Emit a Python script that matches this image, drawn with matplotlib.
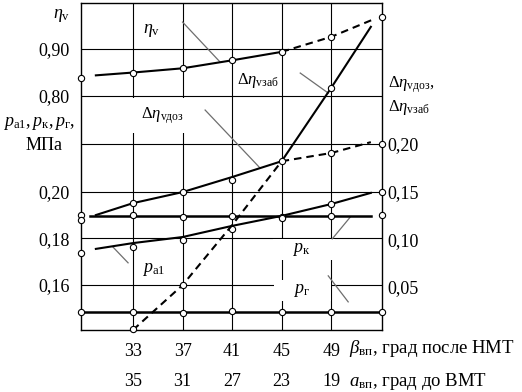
import numpy as np
import matplotlib as mpl
mpl.use("Agg")
import matplotlib.pyplot as plt
from matplotlib.transforms import blended_transform_factory

# ---------------------------------------------------------
# Style: Times-like serif, Cyrillic-capable mathtext
# ---------------------------------------------------------
mpl.rcParams['font.family'] = 'Liberation Serif'
mpl.rcParams['mathtext.fontset'] = 'custom'
mpl.rcParams['mathtext.rm'] = 'Liberation Serif'
mpl.rcParams['mathtext.it'] = 'Liberation Serif:italic'
mpl.rcParams['mathtext.bf'] = 'Liberation Serif:bold'
mpl.rcParams['font.size'] = 13

# ---------------------------------------------------------
# Data
# ---------------------------------------------------------
beta_ticks = [33, 37, 41, 45, 49]
alpha_ticks = [35, 31, 27, 23, 19]
beta_lim = (28.8, 53.1)

# eta_v (left upper scale)
eta_mk_b = [28.8, 33, 37, 41, 45, 49, 53.1]
eta_mk = [0.838, 0.850, 0.859, 0.877, 0.894, 0.926, 0.968]
eta_solid_b = [30, 33, 37, 41, 45]
eta_solid = [0.844, 0.850, 0.859, 0.876, 0.894]
eta_dash_b = [45, 49, 52.3]
eta_dash = [0.894, 0.926, 0.962]

# pressures, MPa (left lower scale)
pa1_mk_b = [28.8, 33, 37, 41, 45, 49, 53.1]
pa1_mk = [0.1738, 0.1763, 0.1794, 0.1841, 0.1892, 0.1948, 0.200]
pa1_b = [30, 33, 37, 41, 45, 49, 52.2]
pa1 = [0.1755, 0.1780, 0.1806, 0.1854, 0.1897, 0.1948, 0.1996]

pk_mk_b = [28.8, 33, 37, 41, 45, 49, 53.1]
pk_mk = [0.1901, 0.1901, 0.1892, 0.1897, 0.1888, 0.1897, 0.1901]
pk_b = [29.5, 52.2]
pk = [0.1897, 0.1897]

pg_mk_b = [28.8, 33, 37, 41, 45, 49, 53.1]
pg_mk = [0.1484, 0.1484, 0.1480, 0.1488, 0.1484, 0.1484, 0.1484]
pg_b = [28.8, 53.1]
pg = [0.1484, 0.1484]

# delta eta_v (right scale)
ddoz_mk_b = [28.8, 33, 37, 41, 45, 49, 53.1]
ddoz_mk = [0.120, 0.138, 0.1496, 0.162, 0.182, 0.1906, 0.200]
ddoz_solid_b = [30, 33, 37, 41, 45]
ddoz_solid = [0.1255, 0.138, 0.1496, 0.1654, 0.182]
ddoz_dash_b = [45, 49, 52.2]
ddoz_dash = [0.182, 0.1906, 0.202]

dzab_mk_b = [33, 37, 49]
dzab_mk = [0.006, 0.052, 0.259]
dzab_dash_b = [33, 37, 41, 45]
dzab_dash = [0.005, 0.052, 0.115, 0.182]
dzab_solid_b = [45, 49, 52.2]
dzab_solid = [0.182, 0.259, 0.323]

# ---------------------------------------------------------
# Figure and three overlaid scales
# ---------------------------------------------------------
W_PX, H_PX = 522, 392
fig = plt.figure(figsize=(W_PX / 100, H_PX / 100), dpi=100)
rect = [81 / W_PX, (H_PX - 330) / H_PX, 301 / W_PX, 327 / H_PX]

ax = fig.add_axes(rect)      # eta_v + grid + labels
ax_p = fig.add_axes(rect)    # pressures
ax_d = fig.add_axes(rect)    # delta eta

for a in (ax, ax_p, ax_d):
    a.set_xlim(*beta_lim)
ax.set_ylim(0.302, 0.998)
ax_p.set_ylim(0.1406, 0.2813)
ax_d.set_ylim(0.0049, 0.348)

for a in (ax_p, ax_d):
    a.patch.set_visible(False)
    for s in a.spines.values():
        s.set_visible(False)
    a.set_xticks([])

for s in ax.spines.values():
    s.set_linewidth(1.0)
    s.set_color("black")

# ticks
ax.set_xticks(beta_ticks, labels=[str(b) for b in beta_ticks])
ax.set_yticks([0.90, 0.80], labels=["0,90", "0,80"])
ax_p.set_yticks([0.20, 0.18, 0.16], labels=["0,20", "0,18", "0,16"])
ax_d.yaxis.tick_right()
ax_d.set_yticks([0.20, 0.15, 0.10, 0.05], labels=["0,20", "0,15", "0,10", "0,05"])
ax.tick_params(axis="x", length=0, pad=9)
ax.tick_params(axis="y", length=0, pad=8)
ax_p.tick_params(axis="y", length=0, pad=8)
ax_d.tick_params(axis="y", length=0, pad=4)

# second row of x labels (alpha = 68 - beta)
xtr = ax.get_xaxis_transform()
for b, a_ in zip(beta_ticks, alpha_ticks):
    ax.text(b, -0.157, str(a_), transform=xtr, ha="center", va="center")

# ---------------------------------------------------------
# Grid (all drawn on the first axes)
# ---------------------------------------------------------
GRID_LW = 0.8
for b in beta_ticks:
    ax.axvline(b, color="black", lw=GRID_LW, zorder=1)
for a_, vals in ((ax, [0.90, 0.80]), (ax_d, [0.20]), (ax_p, [0.20, 0.18, 0.16])):
    tr = blended_transform_factory(ax.transAxes, a_.transData)
    for v in vals:
        ax.plot([0, 1], [v, v], transform=tr, color="black", lw=GRID_LW, zorder=1)

# ---------------------------------------------------------
# Curves
# ---------------------------------------------------------
LW = 1.5
DASH = (0, (3.6, 2.4))
mk = dict(ls="none", marker="o", ms=4.5, mfc="white", mec="black", mew=0.8,
          clip_on=False, zorder=6)

ax.plot(eta_solid_b, eta_solid, color="black", lw=LW, zorder=4)
ax.plot(eta_dash_b, eta_dash, color="black", lw=LW, ls=DASH, zorder=4)
ax.plot(eta_mk_b, eta_mk, **mk)

ax_p.plot(pa1_b, pa1, color="black", lw=LW, zorder=4)
ax_p.plot(pk_b, pk, color="black", lw=1.8, zorder=4)
ax_p.plot(pg_b, pg, color="black", lw=1.8, zorder=4, clip_on=False)
ax_p.plot(pa1_mk_b, pa1_mk, **mk)
ax_p.plot(pk_mk_b, pk_mk, **mk)
ax_p.plot(pg_mk_b, pg_mk, **mk)

ax_d.plot(ddoz_solid_b, ddoz_solid, color="black", lw=LW, zorder=4)
ax_d.plot(ddoz_dash_b, ddoz_dash, color="black", lw=LW, ls=DASH, zorder=4)
ax_d.plot(dzab_dash_b, dzab_dash, color="black", lw=LW, ls=DASH, zorder=4)
ax_d.plot(dzab_solid_b, dzab_solid, color="black", lw=LW, zorder=4)
ax_d.plot(ddoz_mk_b, ddoz_mk, **mk)
ax_d.plot(dzab_mk_b, dzab_mk, **mk)

# ---------------------------------------------------------
# Curve labels with leader lines
# ---------------------------------------------------------
LEAD = dict(color="#6e6e6e", lw=0.9, zorder=2)
WHITE = dict(boxstyle="square,pad=0.12", fc="white", ec="none")
ETA = r"\mathit{η}"

ax.text(34.54, 0.940, rf"${ETA}_{{\mathrm{{v}}}}$", ha="center", va="center", zorder=2)
ax.plot([37.0, 40.03], [0.9574, 0.8723], **LEAD)

ax.text(43.1, 0.267, rf"$\Delta{ETA}_{{\mathrm{{vзаб}}}}$", transform=ax_d.transData,
        ha="center", va="center", fontsize=12, zorder=2)
ax.plot([46.5, 48.76], [0.2745, 0.2535], transform=ax_d.transData, **LEAD)

ax.text(35.2, 0.230, rf" $\Delta{ETA}_{{\mathrm{{vдоз}}}}$", transform=ax_d.transData,
        ha="center", va="center", fontsize=12, zorder=2,
        bbox=dict(boxstyle="square,pad=0.45", fc="white", ec="none"))
ax.plot([38.82, 43.26], [0.2357, 0.1748], transform=ax_d.transData, **LEAD)

ax.text(34.7, 0.1665, r"$p_{\mathrm{a1}}$", transform=ax_p.transData,
        ha="center", va="center", zorder=2)
ax.plot([31.38, 32.6], [0.1763, 0.1695], transform=ax_p.transData, **LEAD)

ax.text(46.8, 0.1752, r"    $p_{\mathrm{к}}$      ", transform=ax_p.transData,
        ha="center", va="center", zorder=2, bbox=WHITE)
ax.plot([50.54, 49.08], [0.1892, 0.1798], transform=ax_p.transData, **LEAD)

ax.text(46.7, 0.1575, r"    $p_{\mathrm{г}}$     ", transform=ax_p.transData,
        ha="center", va="center", zorder=2, bbox=WHITE)
ax.plot([48.76, 50.37], [0.1639, 0.1527], transform=ax_p.transData, **LEAD)

# ---------------------------------------------------------
# Axis titles
# ---------------------------------------------------------
ax.text(-0.066, 0.963, rf"${ETA}_{{\mathrm{{v}}}}$", transform=ax.transAxes,
        ha="center", va="center")
ax.text(-0.138, 0.630, r"$p_{\mathrm{a1}}, p_{\mathrm{к}}, p_{\mathrm{г}},$",
        transform=ax.transAxes, ha="center", va="center", fontsize=13)
ax.text(-0.123, 0.563, "МПа", transform=ax.transAxes, ha="center", va="center")
ax.text(1.02, 0.749, rf"$\Delta{ETA}_{{\mathrm{{vдоз}}}},$", transform=ax.transAxes,
        ha="left", va="center", fontsize=12)
ax.text(1.02, 0.679, rf"$\Delta{ETA}_{{\mathrm{{vзаб}}}}$", transform=ax.transAxes,
        ha="left", va="center", fontsize=12)
ax.text(0.89, -0.058, r"$\mathit{β}_{\mathrm{вп}}$, град после НМТ",
        transform=ax.transAxes, ha="left", va="center", fontsize=13.5)
ax.text(0.89, -0.157, r"$a_{\mathrm{вп}}$, град до ВМТ",
        transform=ax.transAxes, ha="left", va="center", fontsize=13.5)

fig.savefig("out.png", dpi=100)
